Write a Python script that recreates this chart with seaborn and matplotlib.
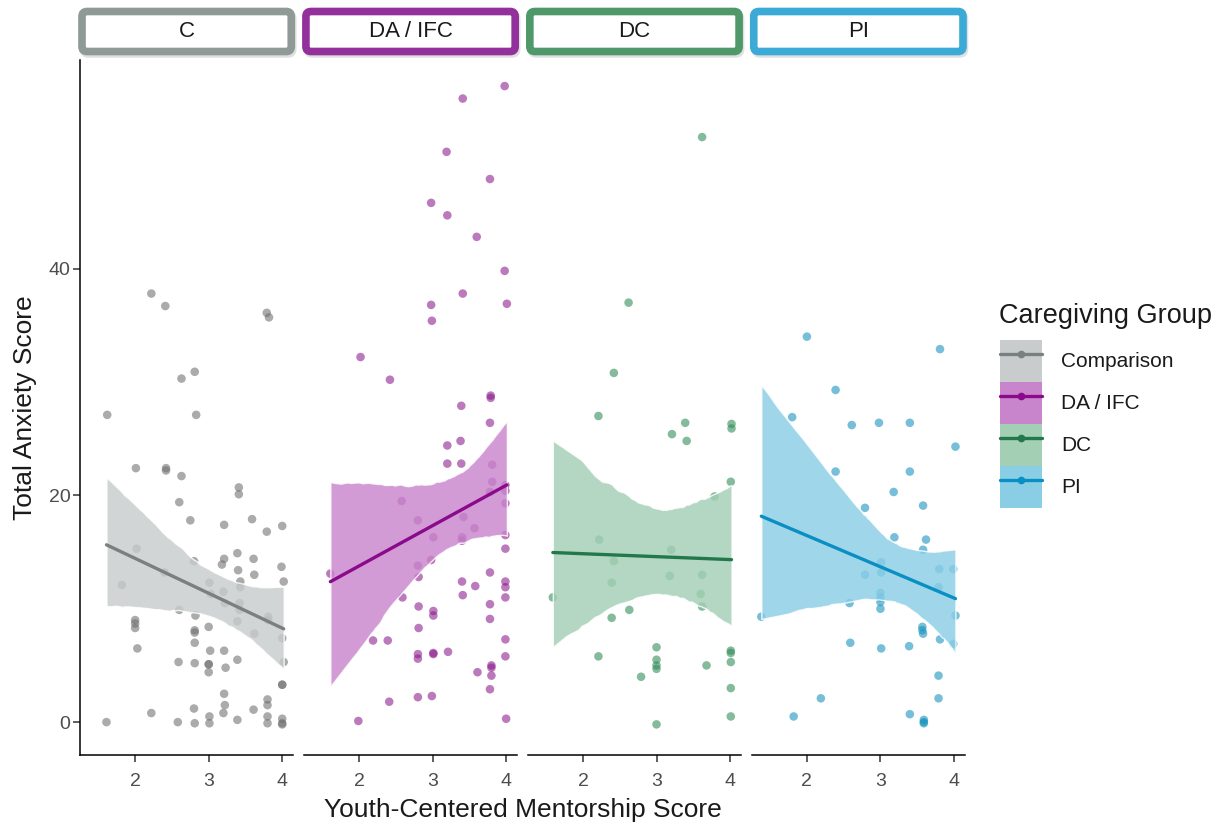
import matplotlib
matplotlib.use("Agg")
import matplotlib.pyplot as plt
from matplotlib.patches import FancyBboxPatch, Patch
from matplotlib.lines import Line2D
import pandas as pd
import seaborn as sns

# facet labels and legend labels
groups = ["C", "DA / IFC", "DC", "PI"]
legend_labels = ["Comparison", "DA / IFC", "DC", "PI"]

# values (mentorship score, anxiety score)
c_x = [2.22, 2.41, 3.79, 3.82, 2.81, 2.63, 1.62, 2.83, 2.01, 2.42, 2.42, 2.63, 3.41, 3.41,
       2.60, 2.75, 3.21, 3.59, 3.79, 4.00, 2.02, 2.80, 3.21, 3.18, 3.39, 3.61, 3.40, 3.62,
       3.99, 4.02, 3.43, 3.43, 2.40, 1.82, 3.01, 3.03, 3.20, 3.22, 3.42, 3.42, 2.60, 2.82,
       3.39, 3.81, 3.81, 2.00, 2.00, 2.00, 3.00, 2.81, 2.81, 2.81, 3.62, 4.00, 2.03, 3.02,
       3.21, 2.59, 2.81, 3.00, 3.00, 3.00, 3.23, 3.39, 4.02, 4.00, 4.00, 3.21, 3.22, 3.80,
       3.80, 2.80, 3.20, 3.61, 2.22, 1.61, 2.58, 2.81, 3.01, 3.01, 3.39, 3.80, 3.80, 4.00,
       4.00, 4.00]
c_y = [37.8, 36.7, 36.1, 35.7, 30.9, 30.3, 27.1, 27.1, 22.4, 22.4, 22.2, 21.7, 20.7, 20.1,
       19.4, 17.8, 17.4, 17.9, 16.8, 17.3, 15.3, 14.2, 14.4, 13.9, 14.9, 14.4, 13.4, 13.0,
       13.7, 12.4, 12.4, 11.9, 13.2, 12.1, 12.3, 11.3, 11.5, 10.5, 10.5, 9.9, 9.9, 9.4,
       8.9, 9.3, 9.0, 9.0, 8.7, 8.3, 8.4, 8.1, 7.9, 7.0, 7.8, 7.4, 6.5, 6.3,
       6.3, 5.3, 5.2, 5.1, 5.1, 4.4, 4.8, 5.5, 5.3, 3.3, 3.3, 2.5, 1.5, 2.0,
       1.5, 1.2, 0.8, 1.1, 0.8, 0.0, 0.0, -0.1, 0.5, -0.1, 0.2, 0.5, -0.1, 0.3,
       -0.1, -0.2]

da_x = [3.98, 3.41, 3.19, 3.78, 2.98, 3.20, 3.60, 3.98, 3.41, 4.01, 2.98, 2.99, 2.02, 2.42,
        3.79, 3.79, 3.39, 3.78, 3.38, 3.20, 3.20, 3.39, 3.81, 3.81, 3.99, 3.99, 3.78, 3.99,
        2.58, 2.80, 3.42, 3.57, 3.01, 3.40, 3.40, 3.99, 3.99, 2.98, 2.80, 2.81, 1.61, 3.78,
        3.40, 3.58, 3.99, 3.99, 3.99, 3.41, 2.59, 3.78, 2.81, 3.01, 3.01, 3.78, 2.81, 2.19,
        2.39, 3.99, 3.99, 2.80, 2.80, 3.01, 3.01, 3.21, 3.80, 3.80, 3.80, 3.61, 3.78, 2.41,
        2.80, 2.99, 1.99, 4.00]
da_y = [56.1, 55.0, 50.3, 47.9, 45.8, 44.7, 42.8, 39.8, 37.8, 36.9, 36.8, 35.4, 32.2, 30.2,
        28.8, 28.6, 27.9, 26.4, 24.8, 24.4, 22.8, 22.8, 22.7, 21.2, 20.9, 20.4, 20.3, 19.3,
        19.5, 17.8, 18.1, 17.1, 16.3, 16.3, 16.0, 16.5, 15.3, 14.3, 13.8, 12.8, 13.1, 13.2,
        12.4, 12.0, 12.4, 11.9, 11.0, 11.2, 11.0, 10.4, 10.2, 9.8, 9.4, 9.1, 8.3, 7.2,
        7.2, 7.3, 5.8, 6.0, 5.6, 6.1, 6.0, 6.2, 5.0, 4.8, 4.1, 4.4, 2.9, 1.8,
        2.2, 2.3, 0.1, 0.3]

dc_x = [3.62, 2.62, 2.42, 2.21, 3.39, 3.21, 3.41, 4.02, 4.02, 4.01, 3.79, 2.22, 3.20, 2.42,
        3.18, 3.62, 2.39, 1.59, 3.60, 3.62, 2.63, 2.39, 3.00, 4.01, 4.01, 2.21, 3.00, 3.00,
        3.00, 4.01, 3.68, 2.79, 4.01, 4.01, 3.00]
dc_y = [51.6, 37.0, 30.8, 27.0, 26.4, 25.4, 24.8, 26.3, 25.9, 21.2, 19.9, 16.1, 15.2, 14.2,
        12.9, 13.0, 12.3, 11.0, 11.3, 10.2, 9.9, 9.2, 6.6, 6.3, 6.1, 5.8, 5.5, 5.0,
        4.7, 5.3, 5.0, 4.0, 3.0, 0.5, -0.2]

pi_x = [2.00, 3.81, 2.39, 1.80, 2.61, 2.98, 3.40, 4.02, 2.39, 3.40, 3.18, 2.79, 3.58, 3.19,
        3.62, 3.58, 3.01, 3.01, 2.79, 3.80, 3.99, 3.79, 3.00, 3.00, 3.00, 3.00, 2.58, 1.38,
        4.02, 3.57, 3.57, 3.58, 3.81, 3.99, 2.59, 3.01, 3.39, 3.79, 2.19, 3.79, 1.82, 3.40,
        3.59, 3.59, 3.59]
pi_y = [34.0, 32.9, 29.3, 26.9, 26.2, 26.4, 26.4, 24.3, 22.1, 22.1, 20.3, 18.9, 19.1, 16.3,
        16.1, 15.2, 14.1, 13.2, 13.0, 13.5, 13.5, 11.9, 11.4, 11.0, 10.6, 10.0, 10.5, 9.3,
        9.4, 8.4, 8.1, 7.8, 7.3, 6.9, 7.0, 6.5, 6.7, 4.1, 2.1, 2.1, 0.5, 0.7,
        0.2, 0.0, -0.1]

frames = []
for g, xs, ys in zip(groups, [c_x, da_x, dc_x, pi_x], [c_y, da_y, dc_y, pi_y]):
    frames.append(pd.DataFrame({"mentorship": xs, "anxiety": ys, "group": g}))
df = pd.concat(frames, ignore_index=True)

point_colors = ["#6e6e6e", "#8b1a8b", "#2e8b57", "#1591bd"]
line_colors = ["#7a8080", "#8b0a8b", "#23784b", "#0a8fc2"]
band_colors = ["#c8cccc", "#c985cc", "#a3cfb5", "#8acee6"]
strip_colors = ["#8f9996", "#94309b", "#4e986a", "#3caad7"]

sns.set_theme(style="ticks")
plt.rcParams["font.family"] = ["Liberation Sans", "DejaVu Sans"]

W, H = 12.14, 8.24
fig, axes = plt.subplots(1, 4, figsize=(W, H), dpi=100, sharex=True, sharey=True)
fig.subplots_adjust(left=80 / 1214, right=965 / 1214, bottom=1 - 755 / 824,
                    top=1 - 60 / 824, wspace=0.05)

for i, (ax, g) in enumerate(zip(axes, groups)):
    sub = df[df["group"] == g]
    sns.scatterplot(data=sub, x="mentorship", y="anxiety", ax=ax, color=point_colors[i],
                    alpha=0.58, s=38, edgecolor="none", legend=False)
    n0 = len(ax.collections)
    sns.regplot(data=sub, x="mentorship", y="anxiety", ax=ax, scatter=False,
                color=line_colors[i], seed=3, line_kws={"lw": 2.4})
    band = ax.collections[n0]
    band.set_facecolor(band_colors[i])
    band.set_alpha(0.82)

    ax.set_xlim(1.25, 4.15)
    ax.set_ylim(-2.9, 58.4)
    ax.set_xticks([2, 3, 4])
    ax.set_xlabel("")
    ax.set_ylabel("")
    for side in ["top", "right"]:
        ax.spines[side].set_visible(False)
    ax.spines["bottom"].set_linewidth(1.1)
    ax.spines["bottom"].set_color("black")
    ax.tick_params(axis="both", labelsize=14, labelcolor="#4d4d4d", color="#333333",
                   length=5, width=1.1)
    ax.tick_params(axis="x", pad=8)
    ax.tick_params(axis="y", pad=2)
    if i > 0:
        ax.spines["left"].set_visible(False)
        ax.tick_params(axis="y", left=False)
    else:
        ax.spines["left"].set_linewidth(1.1)
        ax.spines["left"].set_color("black")
        ax.set_yticks([0, 20, 40])
        ax.set_ylabel("Total Anxiety Score", fontsize=19, color="#1a1a1a", labelpad=8)

    # facet strip with coloured border
    pos = ax.get_position()
    x0 = pos.x0 * W + 0.02
    w = pos.width * W - 0.04
    y0, h = 8.24 - 0.515, 0.40
    shadow = FancyBboxPatch((x0 + 0.015, y0 - 0.025), w, h,
                            boxstyle="round,pad=0,rounding_size=0.05",
                            transform=fig.dpi_scale_trans, facecolor="none",
                            edgecolor="#000000", alpha=0.12, lw=5.5)
    fig.add_artist(shadow)
    strip = FancyBboxPatch((x0, y0), w, h, boxstyle="round,pad=0,rounding_size=0.05",
                           transform=fig.dpi_scale_trans, facecolor="white",
                           edgecolor=strip_colors[i], lw=5.5)
    fig.add_artist(strip)
    fig.text(x0 + w / 2, y0 + h / 2, g, transform=fig.dpi_scale_trans, ha="center",
             va="center", fontsize=16, color="#1a1a1a")

fig.text((80 + 965) / 2 / 1214, 1 - 810 / 824, "Youth-Centered Mentorship Score",
         ha="center", va="center", fontsize=19, color="#1a1a1a")

# legend: title placed separately so the gap above the keys can be matched
fig.text(999 / 1214, 1 - 316 / 824, "Caregiving Group", ha="left", va="center",
         fontsize=19.5, color="#1a1a1a")
handles = []
for i in range(4):
    handles.append((Patch(facecolor=band_colors[i], edgecolor="none"),
                    Line2D([], [], color=line_colors[i], lw=2.4, marker="o", markersize=4.5)))
leg = fig.legend(handles, legend_labels, loc="upper left",
                 bbox_to_anchor=(1000 / 1214, 1 - 340 / 824), frameon=False, fontsize=15,
                 handlelength=2.0, handleheight=2.73, labelspacing=0.0,
                 handletextpad=0.95, borderpad=0, borderaxespad=0, numpoints=1)
for t in leg.get_texts():
    t.set_color("#1a1a1a")

fig.savefig("out.png", dpi=100)
